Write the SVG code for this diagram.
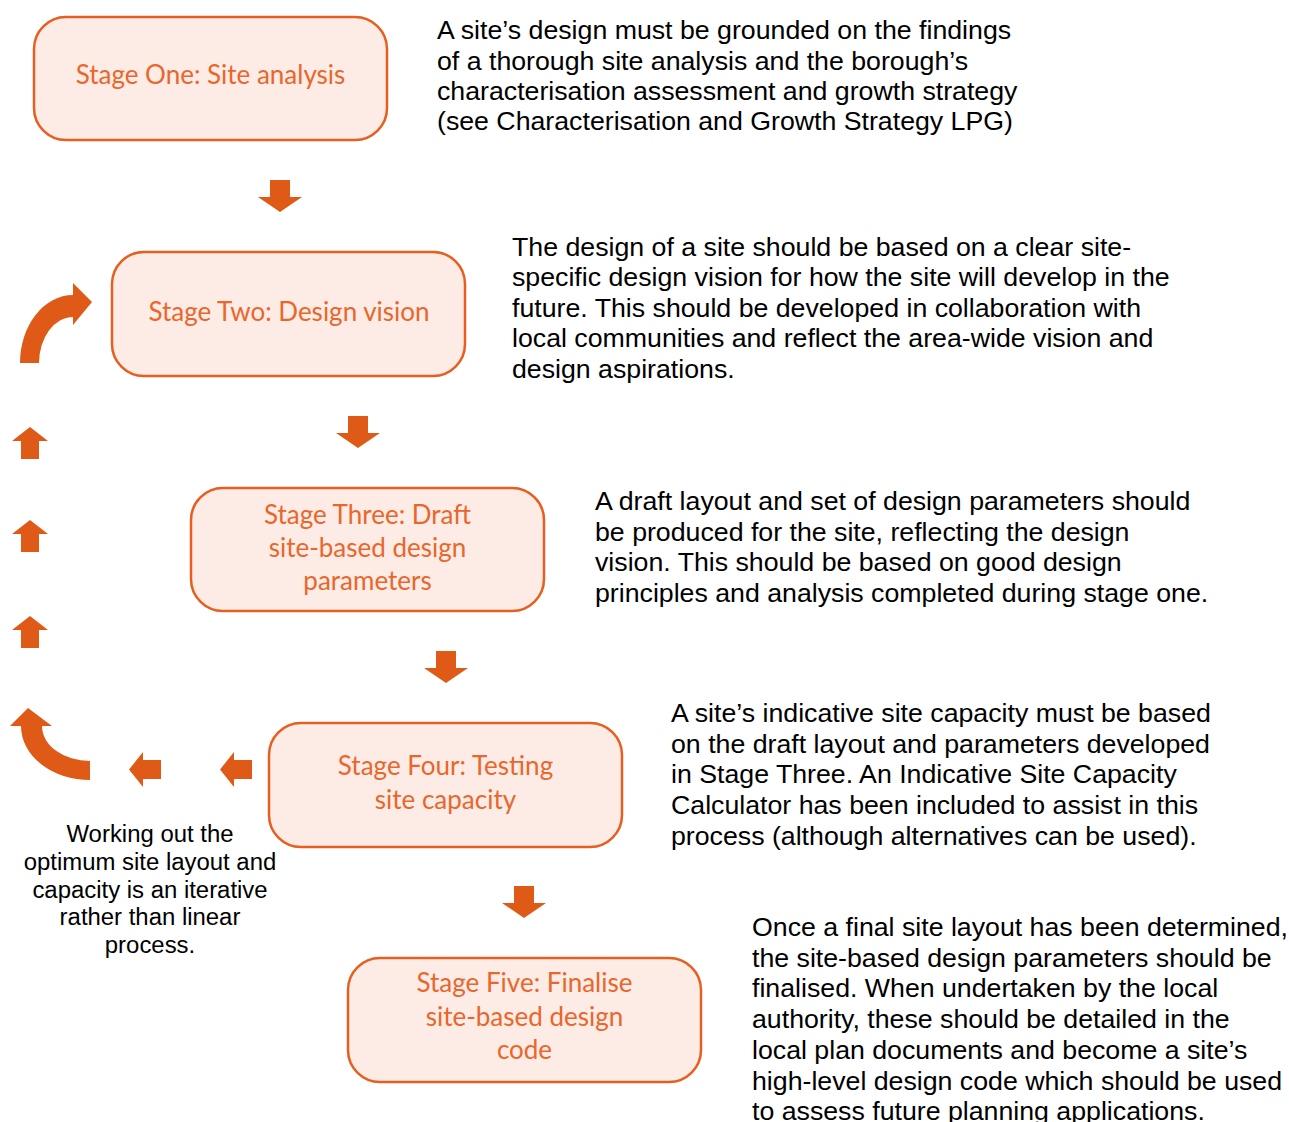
<svg xmlns="http://www.w3.org/2000/svg" width="1289" height="1122" viewBox="0 0 1289 1122">
<style>
.box{fill:#fdece5;stroke:#e65e20;stroke-width:2.5}
.bt{font-family:Lato,"Open Sans",sans-serif;font-size:26px;fill:#e9662c;text-anchor:middle}
.tx{font-family:"Liberation Sans",Arial,sans-serif;font-size:25px;fill:#000}
.note{font-family:"Liberation Sans",Arial,sans-serif;font-size:23px;fill:#000;text-anchor:middle}
.ar{fill:#e05a17}
</style>
<defs>
<path id="down" d="M-10,0 H10 V17 H22 L0,32 L-22,17 H-10 Z"/>
<path id="up" d="M0,0 L18,14 H9 V32 H-9 V14 H-18 Z"/>
<path id="left" d="M0,0 L14,-17.5 V-9.5 H32 V9.5 H14 V17.5 Z"/>
</defs>
<rect width="1289" height="1122" fill="#fff"/>
<g id="connectors" class="ar">
<use href="#down" x="280" y="180"/>
<use href="#down" x="358" y="416"/>
<use href="#down" x="446" y="651"/>
<use href="#down" x="524" y="886"/>
<use href="#left" x="220" y="769.5"/>
<use href="#left" x="129" y="769.5"/>
<path d="M90,761 A48,35 0 0 1 42,726 L52,726 L28,708 L10,726 L21,726 A69,54 0 0 0 90,780 Z"/>
<use href="#up" x="30" y="616"/>
<use href="#up" x="30" y="520"/>
<use href="#up" x="30" y="427"/>
<path d="M20,363 A53,68 0 0 1 73,295 L73,283 L92,302 L73,325 L73,317 A34,46 0 0 0 39,363 Z"/>
</g>
<g id="stage1">
<rect class="box" x="34" y="17" width="353" height="123" rx="32"/>
<text class="bt" x="210.5" y="84">Stage One: Site analysis</text>
</g>
<g id="stage2">
<rect class="box" x="112" y="252" width="353" height="124" rx="32"/>
<text class="bt" x="289" y="321">Stage Two: Design vision</text>
</g>
<g id="stage3">
<rect class="box" x="191" y="488" width="353" height="123" rx="32"/>
<text class="bt" x="367.5" y="524">Stage Three: Draft</text>
<text class="bt" x="367.5" y="557">site-based design</text>
<text class="bt" x="367.5" y="590">parameters</text>
</g>
<g id="stage4">
<rect class="box" x="269" y="723" width="353" height="124" rx="32"/>
<text class="bt" x="445.5" y="775">Stage Four: Testing</text>
<text class="bt" x="445.5" y="809">site capacity</text>
</g>
<g id="stage5">
<rect class="box" x="348" y="958" width="353" height="124" rx="32"/>
<text class="bt" x="524.5" y="992">Stage Five: Finalise</text>
<text class="bt" x="524.5" y="1026">site-based design</text>
<text class="bt" x="524.5" y="1059">code</text>
</g>
<g id="desc1" class="tx" transform="translate(437,0) scale(1.069,1)">
<text x="0" y="39">A site’s design must be grounded on the findings</text>
<text x="0" y="70">of a thorough site analysis and the borough’s</text>
<text x="0" y="100">characterisation assessment and growth strategy</text>
<text x="0" y="130">(see Characterisation and Growth Strategy LPG)</text>
</g>
<g id="desc2" class="tx" transform="translate(512,0) scale(1.069,1)">
<text x="0" y="256">The design of a site should be based on a clear site-</text>
<text x="0" y="286">specific design vision for how the site will develop in the</text>
<text x="0" y="317">future. This should be developed in collaboration with</text>
<text x="0" y="347">local communities and reflect the area-wide vision and</text>
<text x="0" y="378">design aspirations.</text>
</g>
<g id="desc3" class="tx" transform="translate(595,0) scale(1.069,1)">
<text x="0" y="510">A draft layout and set of design parameters should</text>
<text x="0" y="541">be produced for the site, reflecting the design</text>
<text x="0" y="571">vision. This should be based on good design</text>
<text x="0" y="602">principles and analysis completed during stage one.</text>
</g>
<g id="desc4" class="tx" transform="translate(671,0) scale(1.069,1)">
<text x="0" y="722">A site’s indicative site capacity must be based</text>
<text x="0" y="753">on the draft layout and parameters developed</text>
<text x="0" y="783">in Stage Three. An Indicative Site Capacity</text>
<text x="0" y="814">Calculator has been included to assist in this</text>
<text x="0" y="845">process (although alternatives can be used).</text>
</g>
<g id="desc5" class="tx" transform="translate(752,0) scale(1.069,1)">
<text x="0" y="936">Once a final site layout has been determined,</text>
<text x="0" y="967">the site-based design parameters should be</text>
<text x="0" y="997">finalised. When undertaken by the local</text>
<text x="0" y="1028">authority, these should be detailed in the</text>
<text x="0" y="1059">local plan documents and become a site’s</text>
<text x="0" y="1090">high-level design code which should be used</text>
<text x="0" y="1120">to assess future planning applications.</text>
</g>
<g id="note" class="note" transform="translate(150,0) scale(1.04,1)">
<text x="0" y="842">Working out the</text>
<text x="0" y="870">optimum site layout and</text>
<text x="0" y="898">capacity is an iterative</text>
<text x="0" y="925">rather than linear</text>
<text x="0" y="953">process.</text>
</g>
</svg>
